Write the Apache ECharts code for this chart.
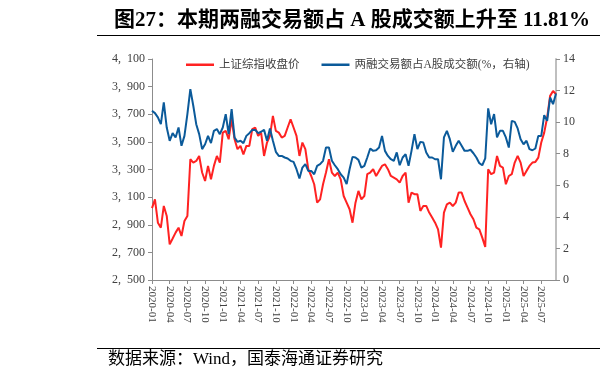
<!DOCTYPE html>
<html>
<head>
<meta charset="utf-8">
<script src="https://cdn.jsdelivr.net/npm/echarts@6/dist/echarts.min.js"></script>
<style>
  html, body { margin: 0; padding: 0; background: #fff; }
  #chart { width: 600px; height: 385px; }
</style>
</head>
<body>
<div id="chart"></div>
<script>
// Semi-monthly observation dates (1st and 16th of each month), 2020-01 to 2025-09
const categories = [];
for (let y = 2020; y <= 2025; y++) {
  for (let mo = 1; mo <= 12; mo++) {
    if (y === 2025 && mo > 9) break;
    const mm = (mo < 10 ? '0' : '') + mo;
    categories.push(y + '-' + mm + '-01');
    categories.push(y + '-' + mm + '-16');
  }
}

// 上证综指收盘价 (left axis)
const sseClose = [
  3020, 3084, 2915, 2879, 3036, 2964, 2758, 2800, 2843, 2879, 2819, 2927, 2964, 3374, 3350, 3362,
  3398, 3278, 3217, 3326, 3229, 3326, 3398, 3350, 3567, 3580, 3519, 3664, 3519, 3447, 3471, 3410,
  3471, 3471, 3592,
  3604, 3543, 3567, 3398, 3495, 3543, 3688, 3580, 3567, 3531, 3543, 3604, 3664, 3604, 3543, 3398,
  3495, 3447, 3302, 3253, 3193, 3060, 3084, 3193, 3278, 3374, 3278, 3253, 3278, 3229, 3108, 3060,
  3012, 2915,
  3060, 3145, 3084, 3108, 3266, 3278, 3302, 3253, 3290, 3326, 3338, 3302, 3253, 3241, 3229, 3205,
  3253, 3278, 3060, 3133, 3121, 3121, 3000, 3036, 3036, 2988, 2952, 2915, 2867, 2734, 2988, 3048,
  3060,
  3036, 3060, 3133, 3133, 3072, 3024, 2976, 2940, 2879, 2867, 2807, 2740, 3302, 3266, 3278, 3398,
  3326, 3314, 3193, 3253, 3266, 3350, 3398, 3350, 3253, 3290, 3326, 3350, 3355, 3386, 3495, 3567,
  3676, 3833, 3869, 3845
];

// 两融交易额占A股成交额 (%, right axis)
const marginShare = [
  10.72, 10.57, 10.30, 9.87, 11.25, 9.66, 8.82, 9.30, 9.03, 9.66, 8.50, 9.13, 10.51, 12.09, 11.04, 9.87,
  9.24, 8.29, 8.60, 9.13, 8.67, 9.45, 9.56, 9.24, 9.66, 10.51, 9.24, 10.82, 9.03, 8.75, 8.82, 8.67,
  9.13, 9.30, 9.51,
  9.51, 9.30, 9.39, 9.51, 8.82, 9.60, 8.82, 8.12, 7.86, 7.86, 7.76, 7.70, 7.55, 7.48, 7.02, 6.43,
  7.12, 7.34, 6.91, 6.91, 6.70, 7.23, 7.34, 7.55, 8.39, 8.39, 7.55, 7.27, 7.02, 6.70, 6.49, 6.07,
  7.02, 7.80,
  7.76, 7.61, 7.12, 7.23, 7.76, 8.33, 8.18, 8.22, 8.39, 9.13, 8.18, 7.86, 7.65, 7.55, 8.08, 7.27,
  7.76, 7.97, 7.23, 8.18, 9.24, 8.29, 8.75, 8.71, 8.08, 7.76, 7.76, 7.65, 7.65, 6.38, 9.03, 9.45,
  8.92,
  8.12, 8.50, 8.82, 8.50, 8.18, 8.18, 8.25, 8.03, 7.76, 7.40, 7.27, 7.70, 10.87, 9.87, 10.51, 9.03,
  9.45, 9.45, 9.03, 8.39, 10.08, 10.02, 9.60, 8.92, 8.60, 8.82, 8.29, 8.22, 8.33, 9.13, 9.13, 10.44,
  10.08, 11.56, 11.14, 11.81
];

const seriesNames = ['上证综指收盘价', '两融交易额占A股成交额(%，右轴)'];
const titleText = '图27：本期两融交易额占 A 股成交额上升至 11.81%';
const sourceText = '数据来源：Wind，国泰海通证券研究';

const serif = '"Liberation Serif", "Noto Sans CJK SC", serif';
const chart = echarts.init(document.getElementById('chart'), null, { renderer: 'canvas' });

chart.setOption({
  animation: false,
  backgroundColor: '#ffffff',
  title: {
    text: titleText,
    left: 347,
    textAlign: 'center',
    top: 5,
    textStyle: { fontFamily: serif, fontSize: 21, fontWeight: 'bold', color: '#000' }
  },
  graphic: [
    { type: 'line', shape: { x1: 97, y1: 35.5, x2: 600, y2: 35.5 }, style: { stroke: '#000', lineWidth: 1 } },
    { type: 'line', shape: { x1: 97, y1: 348.5, x2: 600, y2: 348.5 }, style: { stroke: '#000', lineWidth: 1 } },
    { type: 'text', left: 108, top: 351, style: { text: sourceText, fontFamily: serif, fontSize: 17, fill: '#000' } }
  ],
  legend: {
    data: seriesNames,
    left: 181,
    top: 54,
    icon: 'rect',
    itemWidth: 28,
    itemHeight: 2.5,
    itemGap: 22,
    textStyle: { fontFamily: serif, fontSize: 11.5, color: '#404040' }
  },
  grid: { left: 152, right: 44, top: 59, bottom: 105, containLabel: false },
  xAxis: {
    type: 'category',
    data: categories,
    boundaryGap: false,
    axisLine: { lineStyle: { color: '#8c8c8c', width: 1 } },
    axisTick: { show: true, interval: 5, length: 4, lineStyle: { color: '#8c8c8c' } },
    axisLabel: {
      interval: 5,
      rotate: -90,
      margin: 6,
      fontFamily: serif,
      fontSize: 11,
      color: '#404040',
      formatter: v => v.slice(0, 7)
    },
    splitLine: { show: false }
  },
  yAxis: [
    {
      type: 'value',
      min: 2500,
      max: 4100,
      interval: 200,
      position: 'left',
      axisLine: { show: true, lineStyle: { color: '#8c8c8c', width: 1 } },
      axisTick: { show: true, length: 4, inside: false, lineStyle: { color: '#8c8c8c' } },
      axisLabel: {
        margin: 7,
        fontFamily: serif,
        fontSize: 12,
        color: '#404040',
        formatter: v => { const s = String(v); return s.slice(0, -3) + ',  ' + s.slice(-3); }
      },
      splitLine: { show: false }
    },
    {
      type: 'value',
      min: 0,
      max: 14,
      interval: 2,
      position: 'right',
      axisLine: { show: true, lineStyle: { color: '#bfbfbf', width: 2 } },
      axisTick: { show: true, length: 4, lineStyle: { color: '#8c8c8c' } },
      axisLabel: { margin: 7, fontFamily: serif, fontSize: 12, color: '#404040' },
      splitLine: { show: false }
    }
  ],
  series: [
    {
      name: seriesNames[0],
      type: 'line',
      yAxisIndex: 0,
      data: sseClose,
      symbol: 'none',
      lineStyle: { color: '#ff2222', width: 2 },
      itemStyle: { color: '#ff2222' }
    },
    {
      name: seriesNames[1],
      type: 'line',
      yAxisIndex: 1,
      data: marginShare,
      symbol: 'none',
      lineStyle: { color: '#0b5a9a', width: 2 },
      itemStyle: { color: '#0b5a9a' }
    }
  ]
});
</script>
</body>
</html>
